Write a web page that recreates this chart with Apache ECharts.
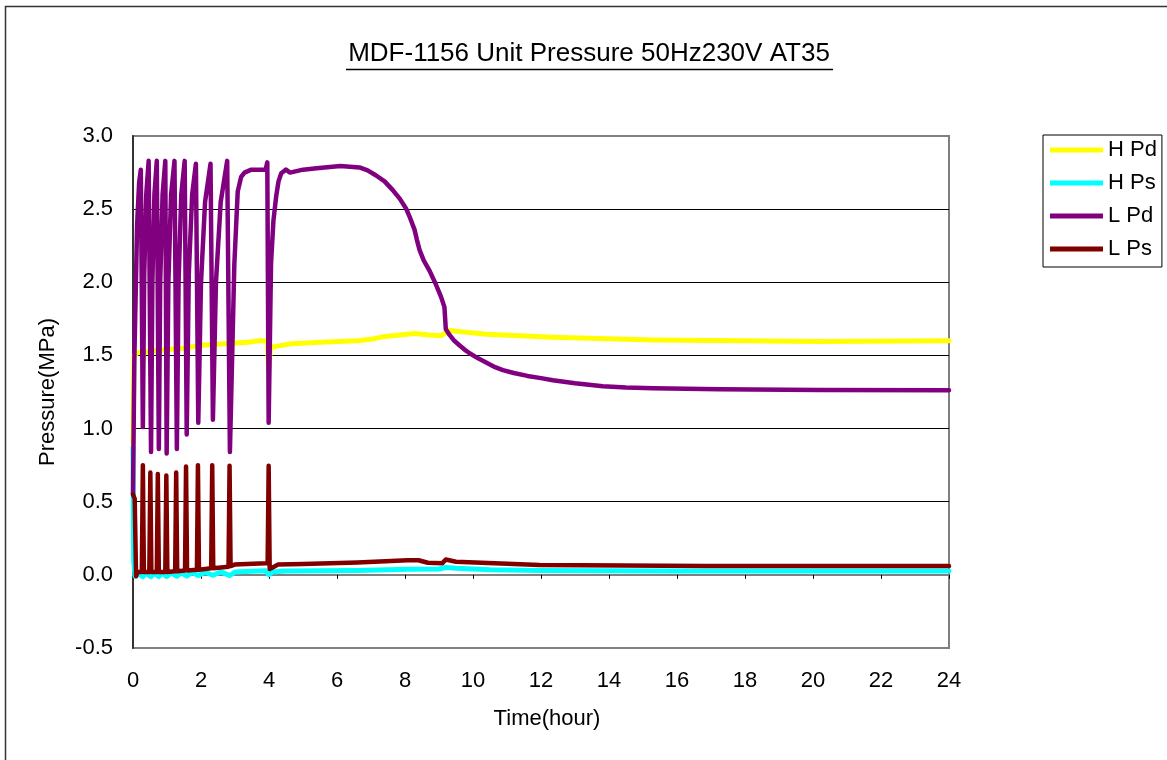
<!DOCTYPE html>
<html>
<head>
<meta charset="utf-8">
<title>MDF-1156 Unit Pressure</title>
<script src="https://cdn.jsdelivr.net/npm/echarts@6/dist/echarts.min.js"></script>
<style>
    html, body { margin: 0; padding: 0; background: #fff; }
    #chart { width: 1167px; height: 760px; }
</style>
</head>
<body>
<div id="chart"></div>
<script>
// 各系列 [时间(h), 压力(MPa)]
const hPd = [
    [0, 0.9], [0.03, 1.5], [0.15, 1.52], [0.28, 1.52], [0.29, 1.44], [0.31, 1.52],
    [0.6, 1.53], [1.04, 1.54], [1.5, 1.55], [2.0, 1.57], [2.69, 1.58],
    [3.4, 1.59], [3.67, 1.6], [3.95, 1.6], [3.99, 1.4], [4.05, 1.56], [4.16, 1.56],
    [4.65, 1.58], [5.5, 1.59], [6.61, 1.6], [7.0, 1.61], [7.4, 1.63], [8.28, 1.65],
    [8.7, 1.64], [9.06, 1.635], [9.3, 1.67], [10.39, 1.645], [12.35, 1.625],
    [15.3, 1.605], [18, 1.6], [20.2, 1.595], [24, 1.6]
]
const hPs = [
    [0, 0.87], [0.02, 0.1], [0.06, -0.01], [0.15, 0.01], [0.2, 0.012], [0.29, -0.012],
    [0.38, 0.012], [0.53, -0.012], [0.62, 0.012], [0.76, -0.012], [0.86, 0.012],
    [0.99, -0.012], [1.12, 0.013], [1.29, -0.01], [1.42, 0.015], [1.58, -0.008],
    [1.74, 0.016], [1.92, -0.005], [2.12, 0.018], [2.35, -0.003], [2.58, 0.02],
    [2.85, -0.005], [3.0, 0.02], [3.5, 0.025], [3.9, 0.028], [3.99, 0.0], [4.1, 0.02],
    [4.5, 0.027], [6.6, 0.03], [8.08, 0.038], [9.0, 0.04], [9.2, 0.05], [9.5, 0.045],
    [10.5, 0.035], [12, 0.03], [16, 0.027], [24, 0.026]
]
const lPd = [
    [0, 0.55], [0.04, 1.48], [0.12, 2.39], [0.18, 2.68], [0.23, 2.77],
    [0.29, 1.01], [0.33, 2.05], [0.39, 2.6], [0.46, 2.83],
    [0.53, 0.84], [0.57, 2.0], [0.63, 2.6], [0.7, 2.83],
    [0.76, 0.86], [0.8, 2.0], [0.87, 2.6], [0.95, 2.83],
    [0.99, 0.83], [1.04, 2.0], [1.12, 2.6], [1.22, 2.83],
    [1.29, 0.86], [1.34, 2.0], [1.42, 2.6], [1.52, 2.83],
    [1.58, 0.96], [1.64, 2.05], [1.74, 2.6], [1.85, 2.81],
    [1.92, 1.04], [2.0, 2.0], [2.12, 2.55], [2.28, 2.81],
    [2.35, 1.06], [2.44, 2.0], [2.58, 2.55], [2.77, 2.83],
    [2.85, 0.84], [2.98, 2.12], [3.08, 2.62], [3.18, 2.72], [3.28, 2.75], [3.48, 2.77], [3.9, 2.77],
    [3.95, 2.82], [3.99, 1.04], [4.06, 2.13], [4.13, 2.42], [4.21, 2.585], [4.28, 2.69],
    [4.36, 2.745], [4.5, 2.77], [4.62, 2.75], [5.0, 2.77], [5.4, 2.78], [6.1, 2.795],
    [6.66, 2.785], [6.9, 2.765], [7.15, 2.73], [7.4, 2.69], [7.64, 2.63], [7.85, 2.57],
    [8.03, 2.505], [8.15, 2.44], [8.28, 2.36], [8.35, 2.29], [8.43, 2.22], [8.55, 2.15],
    [8.72, 2.08], [8.9, 1.99], [9.06, 1.9], [9.16, 1.83], [9.2, 1.68], [9.31, 1.64],
    [9.45, 1.6], [9.6, 1.57], [9.75, 1.54], [9.9, 1.515], [10.15, 1.48], [10.4, 1.45],
    [10.65, 1.42], [10.88, 1.4], [11.2, 1.38], [11.6, 1.36], [12.0, 1.345], [12.35, 1.33],
    [13.0, 1.31], [13.82, 1.29], [14.5, 1.28], [15.3, 1.275], [17.25, 1.268],
    [20.2, 1.264], [24, 1.262]
]
const lPs = [
    [0, 0.55], [0.05, 0.52], [0.09, -0.01], [0.13, 0.02],
    [0.26, 0.02], [0.29, 0.75], [0.32, 0.02],
    [0.48, 0.02], [0.51, 0.7], [0.54, 0.02],
    [0.7, 0.02], [0.73, 0.69], [0.76, 0.02],
    [0.95, 0.02], [0.98, 0.68], [1.01, 0.02],
    [1.24, 0.025], [1.27, 0.7], [1.3, 0.025],
    [1.53, 0.03], [1.56, 0.74], [1.59, 0.03],
    [1.88, 0.035], [1.91, 0.75], [1.94, 0.035],
    [2.3, 0.045], [2.33, 0.75], [2.36, 0.045],
    [2.81, 0.055], [2.84, 0.745], [2.87, 0.06],
    [2.99, 0.07], [3.9, 0.08], [3.96, 0.08], [3.99, 0.745], [4.02, 0.04], [4.11, 0.05],
    [4.26, 0.07], [5.0, 0.075], [6.6, 0.085], [8.08, 0.1], [8.4, 0.1], [8.67, 0.083],
    [9.1, 0.08], [9.2, 0.105], [9.5, 0.09], [11.96, 0.068], [16.86, 0.061], [24, 0.061]
]

const seriesNames = ['H Pd', 'H Ps', 'L Pd', 'L Ps']
const seriesColors = ['#ffff00', '#00ffff', '#800080', '#800000']
const seriesWidths = [5, 5, 4.5, 4.5]
const seriesData = [hPd, hPs, lPd, lPs]

const titleText = 'MDF-1156 Unit Pressure 50Hz230V AT35'
const font = '"Liberation Sans", Arial, sans-serif'

const myChart = echarts.init(document.getElementById('chart'), null, { renderer: 'canvas' })

const option = {
    animation: false,
    backgroundColor: '#fff',
    textStyle: { fontFamily: font },
    graphic: [
        // 外框
        {
            type: 'rect',
            shape: { x: 5.5, y: 6.5, width: 1300, height: 900 },
            style: { fill: 'none', stroke: '#333', lineWidth: 1.5 },
            silent: true
        },
        // 标题 + 下划线
        {
            type: 'text',
            x: 589, y: 54,
            style: {
                text: titleText,
                fill: '#000',
                font: '26px ' + font,
                textAlign: 'center',
                textVerticalAlign: 'middle'
            }
        },
        {
            type: 'line',
            shape: { x1: 346, y1: 69.5, x2: 833, y2: 69.5 },
            style: { stroke: '#000', lineWidth: 1.5 }
        }
    ],
    legend: {
        orient: 'vertical',
        left: 1043,
        top: 135,
        data: seriesNames,
        icon: 'rect',
        itemWidth: 53,
        itemHeight: 5,
        itemGap: 11,
        padding: [4, 5, 7, 7],
        borderColor: '#000',
        borderWidth: 1,
        backgroundColor: '#fff',
        textStyle: { fontSize: 22, color: '#000', fontFamily: font, lineHeight: 22 }
    },
    grid: {
        left: 133,
        right: 218,
        top: 136,
        bottom: 112,
        show: true,
        borderColor: '#808080',
        borderWidth: 2,
        backgroundColor: '#fff'
    },
    xAxis: [
        {
            type: 'value',
            min: 0,
            max: 24,
            interval: 2,
            position: 'bottom',
            name: 'Time(hour)',
            nameLocation: 'middle',
            nameGap: 60,
            nameTextStyle: { fontSize: 22, color: '#000', fontFamily: font, padding: [0, 0, 0, 12] },
            axisLine: { show: false, onZero: false },
            axisTick: { show: false },
            splitLine: { show: false },
            axisLabel: { fontSize: 22, color: '#000', margin: 22, fontFamily: font }
        },
        {
            // 0 线上的横轴和刻度
            type: 'value',
            min: 0,
            max: 24,
            interval: 2,
            position: 'bottom',
            axisLine: { show: true, onZero: true, onZeroAxisIndex: 0, lineStyle: { color: '#808080', width: 2 } },
            axisTick: { show: true, inside: false, length: 4, lineStyle: { color: '#000', width: 1 } },
            splitLine: { show: false },
            axisLabel: { show: false }
        }
    ],
    yAxis: {
        type: 'value',
        min: -0.5,
        max: 3.0,
        interval: 0.5,
        name: 'Pressure(MPa)',
        nameLocation: 'middle',
        nameGap: 74,
        nameTextStyle: { fontSize: 22, color: '#000', fontFamily: font },
        axisLine: { show: true, onZero: false, lineStyle: { color: '#333', width: 2 } },
        axisTick: { show: false },
        axisLabel: {
            fontSize: 22,
            color: '#000',
            margin: 20,
            fontFamily: font,
            formatter: v => v.toFixed(1)
        },
        splitLine: {
            show: true,
            lineStyle: {
                color: ['#808080', '#808080', '#000', '#000', '#000', '#000', '#000', '#808080'],
                width: 1
            }
        }
    },
    series: seriesNames.map((name, i) => ({
        name: name,
        type: 'line',
        xAxisIndex: 0,
        yAxisIndex: 0,
        data: seriesData[i],
        showSymbol: false,
        symbol: 'none',
        color: seriesColors[i],
        lineStyle: { color: seriesColors[i], width: seriesWidths[i], join: 'round', cap: 'round' },
        emphasis: { disabled: true }
    }))
}

myChart.setOption(option)
</script>
</body>
</html>
